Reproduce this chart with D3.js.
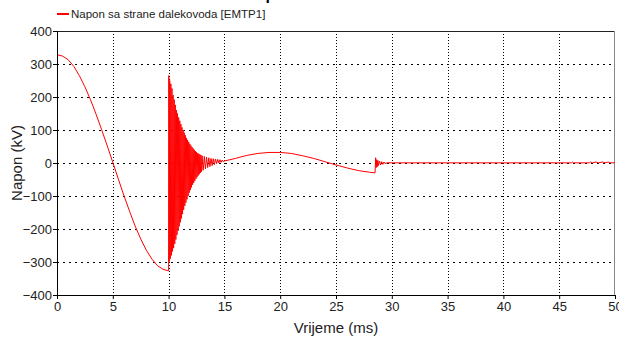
<!DOCTYPE html>
<html>
<head>
<meta charset="utf-8">
<script src="https://cdn.jsdelivr.net/npm/d3@7"></script>
<style>
    body { margin: 0; background: #fff; overflow: hidden; }
    text { font-family: "Liberation Sans", Arial, sans-serif; }
</style>
</head>
<body>
<div id="chart"></div>
<script>
// Napon sa strane dalekovoda - time trace (kV vs ms)

const seriesName = 'Napon sa strane dalekovoda [EMTP1]';
const xTicks = [0, 5, 10, 15, 20, 25, 30, 35, 40, 45, 50];
const yTicks = [-400, -300, -200, -100, 0, 100, 200, 300, 400];

// time points (ms)
const timeMs = [
    0, 0.5, 1, 1.5, 2, 2.5, 3, 3.5, 4, 4.5, 5, 5.5, 6, 6.5, 7, 7.5, 8, 8.5, 9, 9.5, 10,
    10.02, 10.06, 10.1, 10.15, 10.2, 10.25, 10.3, 10.35, 10.4, 10.45, 10.5, 10.55, 10.6, 10.65,
    10.7, 10.75, 10.8, 10.85, 10.9, 10.95, 11.0, 11.05, 11.1, 11.15, 11.2, 11.25, 11.3, 11.35,
    11.4, 11.45, 11.5, 11.55, 11.6, 11.65, 11.7, 11.75, 11.8, 11.85, 11.9, 11.95, 12.0, 12.05,
    12.1, 12.15, 12.2, 12.25, 12.3, 12.35, 12.4, 12.45, 12.5, 12.55, 12.6, 12.65, 12.7, 12.75,
    12.8, 12.85, 12.9, 12.95, 13.0,
    13.1, 13.2, 13.3, 13.4, 13.5, 13.6, 13.7, 13.8, 13.9, 14.0,
    14.1, 14.2, 14.3, 14.4, 14.5, 14.6, 14.7, 14.8, 14.9,
    15, 16, 17, 18, 19, 20, 21, 22, 23, 24, 25, 26, 27, 28, 28.5,
    28.55, 28.6, 28.65, 28.7, 28.75, 28.8, 28.9, 29.0, 29.1, 29.2, 29.3, 29.4, 29.6,
    30, 35, 40, 46.1, 46.2, 46.3, 47.7, 47.8, 48.0, 48.3, 48.5, 48.9, 49.1, 49.4, 49.6, 50
];

// voltage (kV) at those points
const voltageKv = [
    328, 324, 313, 293, 265, 231, 192, 148, 101, 52, 2, -49, -99, -146, -191, -230, -264, -291, -311, -322, -327,
    265, -299, 250, -290, 240, -280, 226, -268, 206, -258, 192, -245, 176, -232,
    160, -218, 150, -205, 138, -192, 128, -180, 118, -168, 108, -155, 100, -142,
    92, -130, 84, -120, 76, -110, 70, -100, 64, -90, 58, -82, 53, -74,
    48, -66, 44, -60, 40, -54, 36, -48, 33, -43, 30, -38, 28, -34,
    26, -30, 24, -26, 22,
    -22, 20, -18, 18, -14, 16, -11, 14, -8, 13,
    -5, 12, -2, 11, 0, 10, 2, 9, 4,
    6, 14, 23, 29, 32, 32, 29, 22, 14, 4, -6, -15, -23, -28, -30,
    16, -14, 10, -11, 8, -8, 6, -6, 4, -4, 3, -2, 1,
    0.5, 0.5, 0.5, 0.5, 3, 0.5, 0.5, 3, 0.5, 3, 0.5, 3, 0.5, 3, 0.5, 0.5
];

function drawChart() {
    const width = 619;
    const height = 338;
    const margin = { top: 31, right: 4, bottom: 43, left: 57 };
    const innerW = width - margin.left - margin.right;
    const innerH = height - margin.top - margin.bottom;

    const svg = d3.select('#chart').append('svg')
        .attr('width', width)
        .attr('height', height);

    const g = svg.append('g')
        .attr('transform', `translate(${margin.left},${margin.top})`);

    const x = d3.scaleLinear().domain([0, 50]).range([0, innerW]);
    const y = d3.scaleLinear().domain([-400, 400]).range([innerH, 0]);

    // cut-off title above the window
    svg.append('text')
        .attr('x', 245)
        .attr('y', 0)
        .attr('font-size', '16px')
        .attr('font-weight', '700')
        .attr('fill', '#000')
        .text('Napon');

    // grid
    g.selectAll('.hgrid')
        .data(yTicks.filter(d => d > -400 && d < 400))
        .enter().append('line')
        .attr('x1', 0).attr('x2', innerW)
        .attr('y1', d => Math.round(y(d)) + 0.5)
        .attr('y2', d => Math.round(y(d)) + 0.5)
        .attr('stroke', '#000')
        .attr('stroke-dasharray', '2,4');

    g.selectAll('.vgrid')
        .data(xTicks.filter(d => d > 0 && d < 50))
        .enter().append('line')
        .attr('y1', 0).attr('y2', innerH)
        .attr('x1', d => Math.round(x(d)) + 0.5)
        .attr('x2', d => Math.round(x(d)) + 0.5)
        .attr('stroke', '#000')
        .attr('stroke-dasharray', '1,2');

    // frame: top dark, right grey
    g.append('line')
        .attr('x1', 0).attr('x2', innerW)
        .attr('y1', 0.5).attr('y2', 0.5)
        .attr('stroke', '#222');
    g.append('line')
        .attr('x1', innerW - 0.5).attr('x2', innerW - 0.5)
        .attr('y1', 0).attr('y2', innerH)
        .attr('stroke', '#888');

    // trace
    const points = timeMs.map((t, i) => [t, voltageKv[i]]);
    const line = d3.line()
        .x(d => x(d[0]))
        .y(d => y(d[1]));

    g.append('path')
        .datum(points)
        .attr('d', line)
        .attr('fill', 'none')
        .attr('stroke', '#ff0000')
        .attr('stroke-width', 1);

    // axes
    const xAxis = g.append('g')
        .attr('transform', `translate(0,${innerH})`)
        .call(d3.axisBottom(x).tickValues(xTicks).tickSize(4).tickPadding(3));

    const yAxis = g.append('g')
        .call(d3.axisLeft(y).tickValues(yTicks).tickSize(4).tickPadding(1));

    [xAxis, yAxis].forEach(ax => {
        ax.select('.domain').attr('stroke', '#000');
        ax.selectAll('.tick line').attr('stroke', '#000');
        ax.selectAll('.tick text')
            .attr('font-size', '13px')
            .attr('font-family', '"Liberation Sans", Arial, sans-serif')
            .attr('fill', '#222');
    });

    // axis titles
    svg.append('text')
        .attr('x', margin.left + innerW / 2)
        .attr('y', 333)
        .attr('text-anchor', 'middle')
        .attr('font-size', '15px')
        .attr('fill', '#222')
        .text('Vrijeme (ms)');

    svg.append('text')
        .attr('transform', `translate(22,${margin.top + innerH / 2}) rotate(-90)`)
        .attr('text-anchor', 'middle')
        .attr('font-size', '15px')
        .attr('fill', '#222')
        .text('Napon (kV)');

    // legend
    svg.append('line')
        .attr('x1', 57).attr('x2', 69)
        .attr('y1', 14).attr('y2', 14)
        .attr('stroke', '#ff0000')
        .attr('stroke-width', 2);

    svg.append('text')
        .attr('x', 71)
        .attr('y', 18)
        .attr('font-size', '11.5px')
        .attr('fill', '#222')
        .text(seriesName);
}

drawChart();
</script>
</body>
</html>
